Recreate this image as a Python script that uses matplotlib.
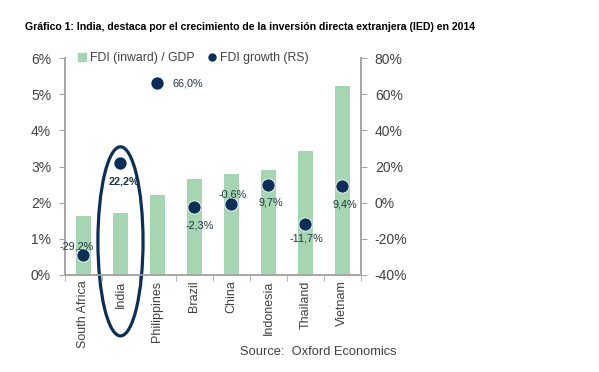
import numpy as np
import matplotlib
matplotlib.use('Agg')
import matplotlib.pyplot as plt
from matplotlib.patches import Ellipse
from matplotlib.lines import Line2D

plt.rcParams['font.family'] = ['Liberation Sans', 'DejaVu Sans']

countries = ['South Africa', 'India', 'Philippines', 'Brazil', 'China',
             'Indonesia', 'Thailand', 'Vietnam']
fdi_gdp = [1.64, 1.72, 2.22, 2.66, 2.80, 2.89, 3.44, 5.22]
fdi_growth = [-29.2, 22.2, 66.0, -2.3, -0.6, 9.7, -11.7, 9.4]
growth_labels = ['-29,2%', '22,2%', '66,0%', '-2,3%', '-0,6%', '9,7%',
                 '-11,7%', '9,4%']
# label offsets in pixels (dx, dy) relative to each dot
label_offsets = [(-7, 9), (3, -19), (15, 0), (5, -19), (1, 9), (2, -17),
                 (1, -15), (2, -19)]

green = '#A6D5B1'
navy = '#0B2F57'
grey_txt = '#404040'
spine = '#A6A6A6'

fig = plt.figure(figsize=(5.99, 3.72), dpi=100)
ax = fig.add_axes([0.1085, 0.2608, 0.494, 0.5832])
ax2 = ax.twinx()

x = np.arange(len(countries))
ax.bar(x, fdi_gdp, width=0.4, color=green, zorder=1)
ax.set_ylim(0, 6)
ax.set_xlim(-0.5, len(countries) - 0.5)
ax.set_yticks(np.arange(0, 7))
ax.set_yticklabels([f'{v}%' for v in range(7)])
ax.set_xticks(x)
ax.set_xticklabels(countries, rotation=90)
ax.set_xticks(np.arange(-0.5, len(countries)), minor=True)
ax.tick_params(axis='x', which='major', length=0, pad=4,
               labelsize=9, labelcolor=grey_txt)
ax.tick_params(axis='x', which='minor', length=4, color=spine)
ax.tick_params(axis='y', length=4, color=spine, labelsize=10,
               labelcolor=grey_txt, pad=6)

ax2.plot(x, fdi_growth, 'o', color=navy, ms=9.5, mec='white', mew=0.6,
         zorder=3)
ax2.set_ylim(-40, 80)
ax2.set_yticks(np.arange(-40, 81, 20))
ax2.set_yticklabels([f'{v}%' for v in range(-40, 81, 20)])
ax2.tick_params(axis='y', length=4, color=spine, labelsize=10,
                labelcolor=grey_txt, pad=6)

for xi, v, lab, (dx, dy) in zip(x, fdi_growth, growth_labels, label_offsets):
    ha = 'left' if dx > 10 else 'center'
    weight = 'bold' if lab == '22,2%' else 'normal'
    ax2.annotate(lab, (xi, v), xytext=(dx, dy), textcoords='offset pixels',
                 ha=ha, va='center', fontsize=7.8, color='#1E3440',
                 fontweight=weight)

for a in (ax, ax2):
    a.spines['top'].set_visible(False)
    for s in ('left', 'right', 'bottom'):
        a.spines[s].set_color(spine)
        a.spines[s].set_linewidth(1.2)

# highlight India
idx = countries.index('India')
ax.add_patch(Ellipse((idx, 0.93), 1.22, 5.23, fill=False, ec=navy, lw=2.3,
                     clip_on=False, zorder=5))

handles = [Line2D([], [], marker='s', ls='', color=green, ms=6),
           Line2D([], [], marker='o', ls='', color=navy, ms=5)]
ax.legend(handles, ['FDI (inward) / GDP', 'FDI growth (RS)'], ncol=2,
          loc='center', bbox_to_anchor=(0.43, 1.0), frameon=False,
          fontsize=8.8, handletextpad=0.15, columnspacing=1.0,
          handlelength=1.0, labelcolor=grey_txt)

fig.text(0.042, 0.927, 'Gráfico 1: India, destaca por el crecimiento de la '
         'inversión directa extranjera (IED) en 2014',
         fontsize=7.6, fontweight='bold', va='center')
fig.text(0.4, 0.053, 'Source:  Oxford Economics', fontsize=9.3,
         color=grey_txt, va='center')

fig.savefig('out.png', dpi=100)
